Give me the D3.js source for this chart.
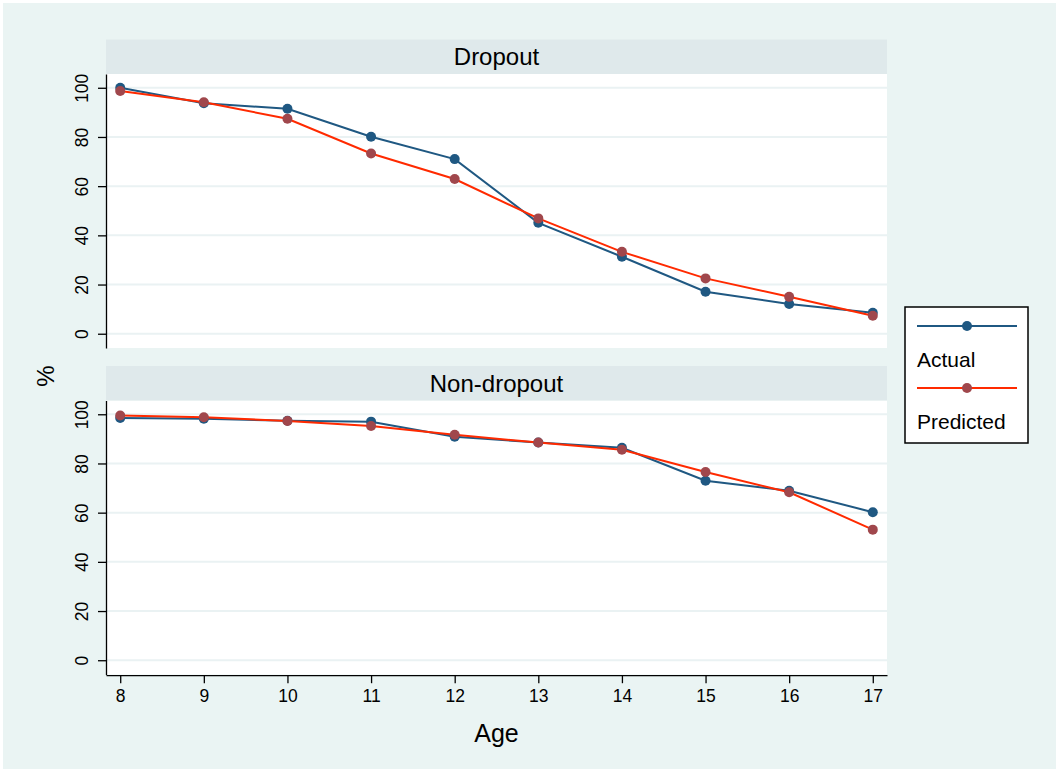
<!DOCTYPE html>
<html>
<head>
<script src="https://d3js.org/d3.v7.min.js"></script>
<style>
  body { margin: 0; background: #fff; }
  text { font-family: "Liberation Sans", Arial, Helvetica, sans-serif; fill: #000; }
  .grid line { stroke: #eaf2f3; stroke-width: 2; }
  .axis path, .axis line { stroke: #000; stroke-width: 1.3; }
  .axis text { font-size: 17.5px; }
</style>
</head>
<body>
<svg id="chart"></svg>
<script>
// data
var ages = [8, 9, 10, 11, 12, 13, 14, 15, 16, 17];
var panels = ["Dropout", "Non-dropout"];
var dropoutActual    = [100, 93.7, 91.5, 80.1, 71.0, 45.1, 31.3, 17.1, 12.1, 8.5];
var dropoutPredicted = [98.7, 94.1, 87.4, 73.3, 62.9, 46.9, 33.3, 22.5, 15.0, 7.3];
var nonActual        = [98.5, 98.2, 97.4, 97.0, 90.9, 88.5, 86.4, 73.0, 68.9, 60.2];
var nonPredicted     = [99.5, 98.8, 97.3, 95.2, 91.7, 88.5, 85.6, 76.5, 68.3, 53.1];
var yTicks = [0, 20, 40, 60, 80, 100];
var seriesNames = ["Actual", "Predicted"];

var W = 1059, H = 771;
var left = 106, right = 887;
var headerH = 34.5, plotH = 274;
var panelTops = [39.5, 366];   // top of header strip for each panel

var lineColor = { Actual: "#1f5882", Predicted: "#ff2a00" };
var dotColor = { Actual: "#1f5882", Predicted: "#a0474c" };

var svg = d3.select("#chart").attr("width", W).attr("height", H);

svg.append("rect").attr("x", 3).attr("y", 3).attr("width", 1053).attr("height", 766)
  .attr("fill", "#eaf4f3");

var x = d3.scaleLinear().domain([7.83, 17.17]).range([0, right - left]);
var y = d3.scaleLinear().domain([-5.8, 105.6]).range([plotH, 0]);

var data = [
  { name: panels[0], series: [{ key: "Actual", v: dropoutActual }, { key: "Predicted", v: dropoutPredicted }] },
  { name: panels[1], series: [{ key: "Actual", v: nonActual }, { key: "Predicted", v: nonPredicted }] }
];

var line = d3.line().x(function (d) { return x(d.age); }).y(function (d) { return y(d.val); });

data.forEach(function (p, i) {
  var top = panelTops[i];
  var g = svg.append("g").attr("transform", "translate(" + left + "," + (top + headerH) + ")");

  // header strip
  svg.append("rect").attr("x", left).attr("y", top).attr("width", right - left).attr("height", headerH)
    .attr("fill", "#dfe9eb");
  svg.append("text").attr("x", (left + right) / 2).attr("y", top + headerH / 2)
    .attr("text-anchor", "middle").attr("dominant-baseline", "central")
    .style("font-size", "24px").text(p.name);

  g.append("rect").attr("width", right - left).attr("height", plotH).attr("fill", "#fff");

  g.append("g").attr("class", "grid").selectAll("line").data(yTicks).enter().append("line")
    .attr("x1", 0).attr("x2", right - left)
    .attr("y1", function (d) { return y(d); }).attr("y2", function (d) { return y(d); });

  var yAxis = g.append("g").attr("class", "axis")
    .call(d3.axisLeft(y).tickValues(yTicks).tickSize(8).tickPadding(8).tickSizeOuter(0));
  // rotated labels, left of the tick
  yAxis.selectAll(".tick text")
    .attr("transform", "translate(-24,0) rotate(-90)")
    .attr("x", 0).attr("y", 0).attr("dy", "0.35em")
    .attr("text-anchor", "middle");

  if (i === 1) {
    g.append("g").attr("class", "axis").attr("transform", "translate(0," + (plotH + 0.7) + ")")
      .call(d3.axisBottom(x).tickValues(ages).tickFormat(d3.format("d")).tickSize(8).tickPadding(6).tickSizeOuter(0));
  }

  p.series.forEach(function (s) {
    var pts = ages.map(function (a, k) { return { age: a, val: s.v[k] }; });
    g.append("path").datum(pts).attr("d", line).attr("fill", "none")
      .attr("stroke", lineColor[s.key]).attr("stroke-width", 2);
    g.selectAll(null).data(pts).enter().append("circle")
      .attr("cx", function (d) { return x(d.age); }).attr("cy", function (d) { return y(d.val); })
      .attr("r", 5).attr("fill", dotColor[s.key]);
  });
});

// axis titles
svg.append("text").attr("transform", "translate(45,376) rotate(-90)")
  .attr("text-anchor", "middle").attr("dominant-baseline", "central")
  .style("font-size", "24px").text("%");
svg.append("text").attr("x", (left + right) / 2).attr("y", 742)
  .attr("text-anchor", "middle").style("font-size", "25px").text("Age");

// legend
var lg = svg.append("g").attr("transform", "translate(905,307)");
lg.append("rect").attr("width", 123).attr("height", 136).attr("fill", "#fff")
  .attr("stroke", "#000").attr("stroke-width", 1.5);
seriesNames.forEach(function (n, k) {
  var ly = 19 + k * 62;
  lg.append("line").attr("x1", 12).attr("x2", 112).attr("y1", ly).attr("y2", ly)
    .attr("stroke", lineColor[n]).attr("stroke-width", 2);
  lg.append("circle").attr("cx", 62).attr("cy", ly).attr("r", 5).attr("fill", dotColor[n]);
  lg.append("text").attr("x", 12).attr("y", ly + 41).style("font-size", "21px").text(n);
});
</script>
</body>
</html>
